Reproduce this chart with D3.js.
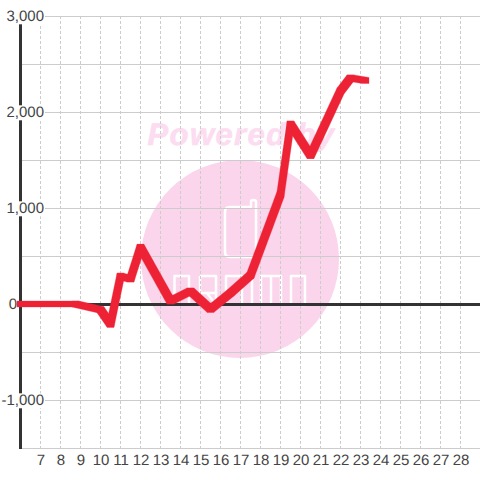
<!DOCTYPE html>
<html>
<head>
<meta charset="utf-8">
<script src="https://cdn.jsdelivr.net/npm/d3@7"></script>
<style>
  html, body { margin: 0; padding: 0; background: #fff; }
  svg { display: block; }
  text { font-family: "Liberation Sans", Arial, sans-serif; fill: #444; text-rendering: geometricPrecision; }
</style>
</head>
<body>
<div id="chart"></div>
<script>
var days = [7, 8, 9, 10, 11, 12, 13, 14, 15, 16, 17, 18, 19, 20, 21, 22, 23, 24, 25, 26, 27, 28];
var yLabels = [-1000, 0, 1000, 2000, 3000];
var yGrid = [-1500, -1000, -500, 500, 1000, 1500, 2000, 2500, 3000];
var lineX = [6, 8.75, 10, 10.5, 11, 11.5, 12, 13.5, 14.5, 15.5, 16.5, 17.5, 19, 19.5, 20.5, 22, 22.5, 23.25];
var lineY = [0, 0, -60, -210, 290, 260, 590, 30, 135, -55, 115, 300, 1140, 1875, 1547, 2220, 2355, 2328];

// Set Margins
var width = 480;
var height = 480;
var brushW = 3.5;
var brushH = 3;

var x = d3.scaleLinear().domain([6, 29]).range([20.5, 480.5]);
var y = d3.scaleLinear().domain([-1500, 3000]).range([448, 16]);

var svg = d3.select("#chart")
    .append("svg")
    .attr("width", width)
    .attr("height", height);

// Watermark
var mark = svg.append("g");

mark.append("text")
    .attr("x", 241.5)
    .attr("y", 145)
    .attr("text-anchor", "middle")
    .style("font-size", "31px")
    .style("font-weight", "bold")
    .style("font-style", "italic")
    .style("letter-spacing", "1.4px")
    .style("fill", "#fcdcf0")
    .style("stroke", "#fcdcf0")
    .style("stroke-width", "0.6px")
    .text("Powered by");

mark.append("circle")
    .attr("cx", 240)
    .attr("cy", 259)
    .attr("r", 99)
    .attr("fill", "#fbd5ec");

var logo = [
  "M230,207 H251 V202 Q251,200 253.500,200 Q256,200 256,202 V252 Q256,257 251,257 H230 Q225,257 225,252 V212 Q225,207 230,207 Z",
  "M174.500,305 V276 H189 V305",
  "M200,276 H216 V304 M200,276 V293 H216 M207,293 L216,305",
  "M226,305 V276 H242 V305",
  "M252,276 V305",
  "M261,305 V276 H281 V305 M271,276 V305",
  "M291,276 H305 V305 H291 Z"
];

mark.selectAll(".logo")
    .data(logo)
    .enter().append("path")
    .attr("class", "logo")
    .attr("d", d => d)
    .attr("fill", "none")
    .attr("stroke", "#fff")
    .attr("stroke-width", 2.5)
    .attr("stroke-linejoin", "round");

// Grid
svg.append("g").selectAll("line")
    .data(yGrid)
    .enter().append("line")
    .attr("x1", 20).attr("x2", 480)
    .attr("y1", d => y(d) + 0.5).attr("y2", d => y(d) + 0.5)
    .attr("stroke", "#ccc");

svg.append("g").selectAll("line")
    .data(days)
    .enter().append("line")
    .attr("x1", d => x(d)).attr("x2", d => x(d))
    .attr("y1", y(3000)).attr("y2", y(-1500))
    .attr("stroke", "#ccc")
    .attr("stroke-dasharray", "3,2");

// Axis lines
svg.append("line")
    .attr("x1", x(6)).attr("x2", x(6))
    .attr("y1", 24).attr("y2", y(-1500) + 1)
    .attr("stroke", "#333")
    .attr("stroke-width", 3);

svg.append("line")
    .attr("x1", 20).attr("x2", 480)
    .attr("y1", y(0) + 0.5).attr("y2", y(0) + 0.5)
    .attr("stroke", "#333")
    .attr("stroke-width", 3);

// Y labels sit on a white box, it cuts the axis and grid
var yAxis = d3.axisLeft(y)
    .tickValues(yLabels)
    .tickSize(0)
    .tickPadding(0)
    .tickFormat(d => d3.format(",")(d).replace("\u2212", "-"));

var yG = svg.append("g")
    .attr("transform", "translate(44,0)")
    .call(yAxis);
yG.select(".domain").remove();
yG.selectAll("text")
    .style("font-size", "15px")
    .style("font-family", null)
    .attr("x", d => d == 0 ? -27 : 0);
yG.selectAll(".tick").each(function() {
  var t = d3.select(this).select("text");
  var b = t.node().getBBox();
  d3.select(this).insert("rect", "text")
    .attr("x", b.x)
    .attr("y", b.y + 1)
    .attr("width", b.width + 1)
    .attr("height", b.height - 2)
    .attr("fill", "#fff");
});

var xAxis = d3.axisBottom(x)
    .tickValues(days)
    .tickSize(0)
    .tickPadding(0)
    .tickFormat(d3.format("d"));

var xG = svg.append("g")
    .attr("transform", "translate(0,454)")
    .call(xAxis);
xG.select(".domain").remove();
xG.selectAll("text")
    .style("font-size", "15px")
    .style("font-family", null);

// Series line, drawn with a square brush: hull of the box at both ends of each segment
var pts = d3.zip(lineX, lineY).map(d => [x(d[0]), y(d[1])]);

function corners(p) {
  return [
    [p[0] - brushW, p[1] - brushH],
    [p[0] + brushW, p[1] - brushH],
    [p[0] + brushW, p[1] + brushH],
    [p[0] - brushW, p[1] + brushH]
  ];
}

svg.append("g").selectAll("path")
    .data(d3.pairs(pts))
    .enter().append("path")
    .attr("d", d => "M" + d3.polygonHull(corners(d[0]).concat(corners(d[1]))).join("L") + "Z")
    .attr("fill", "#ee2235")
    .attr("stroke", "#ee2235")
    .attr("stroke-width", 0.3);
</script>
</body>
</html>
